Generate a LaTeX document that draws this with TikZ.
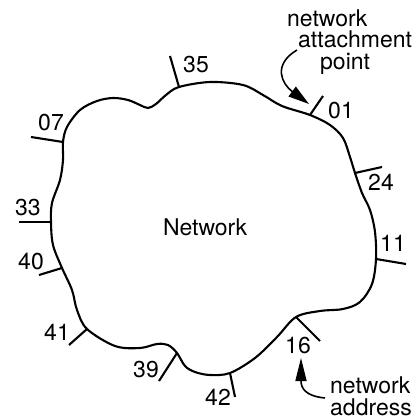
\documentclass[tikz,border=0pt]{standalone}
\usepackage{fontspec}
\setmainfont{TeX Gyre Heros}
\usetikzlibrary{arrows.meta}
\tikzset{
  netline/.style={line width=2.1pt, line join=round},
  tickline/.style={line width=2.1pt},
  lbl/.style={inner sep=0pt, font=\fontsize{23}{23}\selectfont},
  txt/.style={inner sep=0pt, anchor=base west, font=\fontsize{23}{23}\selectfont},
  ptr/.style={line width=1.6pt, -{Triangle[length=21pt,width=12pt]}},
}
\begin{document}
\begin{tikzpicture}[x=1pt,y=-1pt]
\useasboundingbox (0,0) rectangle (419,420);
% attachment points on the network boundary
\coordinate (p07) at (63,142);
\coordinate (p35) at (179,87);
\coordinate (p01) at (310,115);
\coordinate (p24) at (355,173);
\coordinate (p11) at (376,259);
\coordinate (p16) at (296,317);
\coordinate (p42) at (230,373);
\coordinate (p39) at (177,353);
\coordinate (p41) at (87,329);
\coordinate (p40) at (62,268);
\coordinate (p33) at (51,222);
% outer tick ends
\coordinate (t07) at (31,137);
\coordinate (t35) at (170,56);
\coordinate (t01) at (323,96);
\coordinate (t24) at (382,167);
\coordinate (t11) at (406,264);
\coordinate (t16) at (320,341);
\coordinate (t42) at (235,397);
\coordinate (t39) at (159,381);
\coordinate (t41) at (69,345);
\coordinate (t40) at (39,275);
\coordinate (t33) at (19,222);
% network cloud
\draw[netline] plot[smooth cycle, tension=0.55] coordinates {
 (p07) (67,127) (80,110) (97,101) (113,98) (128,100) (140,105) (148,108)
 (156,104) (166,95) (p35) (210,82) (243,85) (263,95) (282,106) (p01)
 (330,125) (343,138) (350,157) (p24) (362,193) (370,210) (375,232) (p11)
 (372,284) (360,302) (343,309) (320,311) (p16) (277,337) (255,358) (p42)
 (210,375) (195,372) (185,366) (p39) (168,345) (157,344) (140,348) (115,346)
 (p41) (77,310) (72,290) (p40) (53,245) (p33) (52,203) (60,180) (63,160)
};
% ticks
\foreach \n in {07,35,01,24,11,16,42,39,41,40,33}
  \draw[tickline] (p\n) -- (t\n);
% labels
\node[lbl] (l35) at (196,65) {35};
\node[lbl] (l07) at (51,123) {07};
\node[lbl] (l01) at (341,111) {01};
\node[lbl] (l24) at (381,182) {24};
\node[lbl] (l11) at (393,243) {11};
\node[lbl] (l16) at (298,346) {16};
\node[lbl] (l42) at (218,397) {42};
\node[lbl] (l39) at (146,370) {39};
\node[lbl] (l41) at (57,332) {41};
\node[lbl] (l40) at (31,262) {40};
\node[lbl] (l33) at (28,208) {33};
\node[lbl, anchor=base] (net) at (205,235) {Network};
% annotation texts
\node[txt] (ap1) at (287,27) {network};
\node[txt] (ap2) at (298,48) {attachment};
\node[txt] (ap3) at (320,70) {point};
\node[txt] (ad1) at (330,393) {network};
\node[txt] (ad2) at (330,415) {address};
% pointers
\coordinate (apstart) at (297,50);
\coordinate (aptip) at (309,104);
\coordinate (adstart) at (325,398);
\coordinate (adtip) at (301,358);
\draw[ptr] (apstart) .. controls (272,65) and (282,84) .. (aptip);
\draw[ptr,-{Triangle[length=23pt,width=11pt]}] (adstart) .. controls (305,396) and (301,388) .. (adtip);
\end{tikzpicture}
\end{document}
